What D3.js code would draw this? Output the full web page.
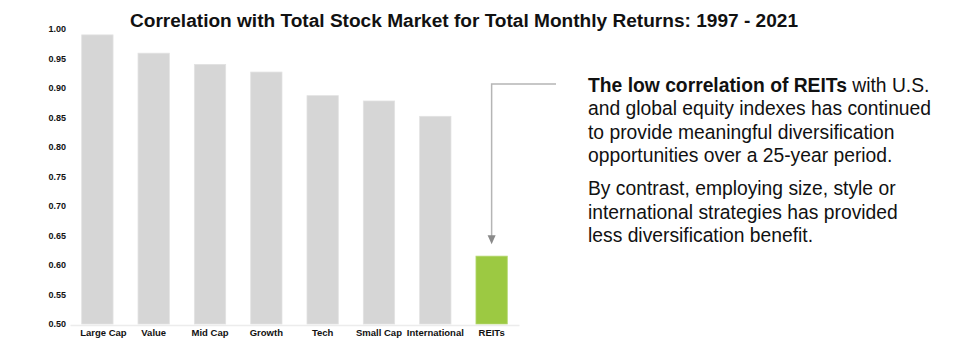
<!DOCTYPE html>
<html>
<head>
<meta charset="utf-8">
<script src="https://cdn.jsdelivr.net/npm/d3@7"></script>
<style>
  html, body { margin: 0; padding: 0; background: #fff; }
  svg { display: block; font-family: "Liberation Sans", Arial, sans-serif; }
</style>
</head>
<body>
<svg id="chart" width="980" height="344"></svg>
<script>
// Correlation of each equity segment with the total stock market (monthly returns, 1997-2021)
const categories = ["Large Cap", "Value", "Mid Cap", "Growth", "Tech", "Small Cap", "International", "REITs"];
const correlations = [0.99, 0.959, 0.94, 0.927, 0.887, 0.878, 0.852, 0.615];
const yTicks = [0.50, 0.55, 0.60, 0.65, 0.70, 0.75, 0.80, 0.85, 0.90, 0.95, 1.00];
const highlight = "REITs";

const titleText = "Correlation with Total Stock Market for Total Monthly Returns: 1997 - 2021";
const noteParagraphs = [
  [[{ t: "The low correlation of REITs", b: true }, { t: " with U.S.", b: false }],
   [{ t: "and global equity indexes has continued", b: false }],
   [{ t: "to provide meaningful diversification", b: false }],
   [{ t: "opportunities over a 25-year period.", b: false }]],
  [[{ t: "By contrast, employing size, style or", b: false }],
   [{ t: "international strategies has provided", b: false }],
   [{ t: "less diversification benefit.", b: false }]]
];

const svg = d3.select("#chart");

const x = d3.scaleBand()
  .domain(categories)
  .range([70, 519])
  .paddingInner(0.444)
  .paddingOuter(0.208);

const y = d3.scaleLinear()
  .domain([0.5, 1.0])
  .range([324, 29]);

// Title
svg.append("text")
  .attr("x", 464)
  .attr("y", 27)
  .attr("text-anchor", "middle")
  .attr("font-size", 18)
  .attr("font-weight", "bold")
  .attr("fill", "#111")
  .attr("textLength", 668)
  .attr("lengthAdjust", "spacingAndGlyphs")
  .text(titleText);

// Y axis labels (no axis line)
const yAxis = d3.axisLeft(y)
  .tickValues(yTicks)
  .tickFormat(d3.format(".2f"))
  .tickSize(0)
  .tickPadding(0);
const yg = svg.append("g").attr("transform", "translate(66,0)").call(yAxis);
yg.select(".domain").remove();
yg.selectAll("text")
  .attr("font-family", "Liberation Sans, Arial, sans-serif")
  .attr("font-size", 9)
  .attr("font-weight", "bold")
  .attr("fill", "#111");

// Bars
svg.append("g").selectAll("rect")
  .data(categories.map((c, i) => ({ c, v: correlations[i] })))
  .join("rect")
  .attr("x", d => x(d.c))
  .attr("width", x.bandwidth())
  .attr("y", d => y(d.v))
  .attr("height", d => y(0.5) - y(d.v))
  .attr("fill", d => d.c === highlight ? "#9cc942" : "#d6d6d6")
  .attr("stroke", d => d.c === highlight ? "#b4d86e" : "#e2e2e2")
  .attr("stroke-width", 0.8);

// X axis baseline and labels
const xAxis = d3.axisBottom(x).tickSize(0).tickPadding(4);
const xg = svg.append("g").attr("transform", "translate(0,325)").call(xAxis);
xg.select(".domain").attr("stroke", "#ececec").attr("stroke-width", 1.5);
xg.selectAll("text")
  .attr("font-family", "Liberation Sans, Arial, sans-serif")
  .attr("font-size", 9.5)
  .attr("font-weight", "bold")
  .attr("fill", "#111")
  .attr("dx", (d, i) => i === 0 ? 6 : 0);

// Callout connector pointing at the highlighted bar
const ax = x(highlight) + x.bandwidth() / 2;
const arrowTop = 84;
const arrowTip = y(correlations[categories.indexOf(highlight)]) - 12;
svg.append("path")
  .attr("d", `M556,${arrowTop} H${ax} V${arrowTip - 8}`)
  .attr("fill", "none")
  .attr("stroke", "#b5b5b5")
  .attr("stroke-width", 1.5);
svg.append("path")
  .attr("d", `M${ax - 4},${arrowTip - 9} L${ax + 4},${arrowTip - 9} L${ax},${arrowTip} Z`)
  .attr("fill", "#8a8a8a");

// Note text
const noteX = 588;
const noteFont = 19.3;
let baseY = 92;
noteParagraphs.forEach((para, pi) => {
  para.forEach((line, li) => {
    const t = svg.append("text")
      .attr("x", noteX)
      .attr("y", baseY)
      .attr("font-size", noteFont)
      .attr("fill", "#111");
    line.forEach(seg => {
      t.append("tspan")
        .attr("font-weight", seg.b ? "bold" : "normal")
        .text(seg.t);
    });
    baseY += 23.3;
  });
  baseY += 10;
});
</script>
</body>
</html>
